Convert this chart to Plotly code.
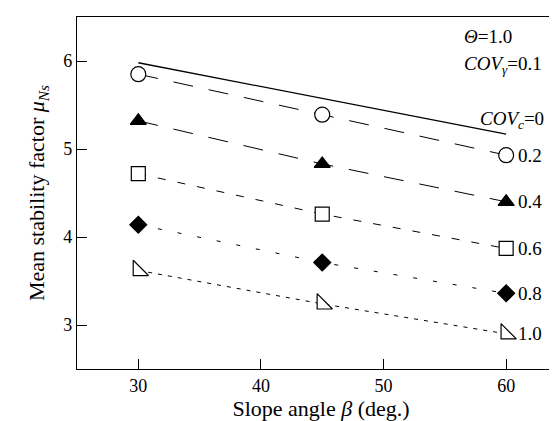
import plotly.graph_objects as go

angles = [30, 45, 60]
cov0 = [5.98, 5.575, 5.17]
cov02 = [5.85, 5.39, 4.93]
cov04 = [5.32, 4.83, 4.40]
cov06 = [4.72, 4.26, 3.87]
cov08 = [4.14, 3.71, 3.36]
cov10 = [3.62, 3.24, 2.90]
labels = ["0.2", "0.4", "0.6", "0.8", "1.0"]

FONT = "Liberation Serif"

fig = go.Figure()
fig.add_trace(go.Scatter(x=angles, y=cov0, mode="lines",
                         line=dict(color="black", width=1.3), showlegend=False))

specs = [
    (cov02, "circle", "white", "20px,16px", 15),
    (cov04, "triangle-up", "black", "20px,16px", 14),
    (cov06, "square", "white", "8px,12px", 14),
    (cov08, "diamond", "black", "4px,16px", 13),
    (cov10, "triangle-sw", "white", "4px,6px", 17),
]
for vals, sym, fill, dash, size in specs:
    fig.add_trace(go.Scatter(
        x=angles, y=vals, mode="lines+markers",
        line=dict(color="black", width=1, dash=dash),
        marker=dict(symbol=sym, size=size, color=fill,
                    line=dict(color="black", width=1.2)),
        showlegend=False))

annotations = []
for vals, lab in zip([cov02, cov04, cov06, cov08, cov10], labels):
    annotations.append(dict(x=60, y=vals[-1], xref="x", yref="y", text=lab,
                            showarrow=False, xanchor="left", yanchor="middle",
                            xshift=10, font=dict(family=FONT, size=19, color="black")))
annotations += [
    dict(x=56.4, y=6.28, xref="x", yref="y", text="<i>Θ</i>=1.0", showarrow=False,
         xanchor="left", yanchor="middle", font=dict(family=FONT, size=19, color="black")),
    dict(x=56.4, y=5.95, xref="x", yref="y", text="<i>COV</i><sub><i>γ</i></sub>=0.1",
         showarrow=False, xanchor="left", yanchor="middle",
         font=dict(family=FONT, size=19, color="black")),
    dict(x=57.7, y=5.33, xref="x", yref="y", text="<i>COV</i><sub><i>c</i></sub>=0",
         showarrow=False, xanchor="left", yanchor="middle",
         font=dict(family=FONT, size=19, color="black")),
]

fig.update_layout(
    width=557, height=421,
    margin=dict(l=69, r=0, t=9, b=60),
    paper_bgcolor="white", plot_bgcolor="white",
    font=dict(family=FONT, size=18, color="black"),
    annotations=annotations,
    xaxis=dict(range=[25, 64.8], tickvals=[30, 40, 50, 60], ticks="inside", ticklen=10,
               tickcolor="black", showline=True, linecolor="black", linewidth=1.3,
               mirror=True, showgrid=False, zeroline=False,
               tickfont=dict(family=FONT, size=18),
               title=dict(text="Slope angle <i>β</i> (deg.)", font=dict(family=FONT, size=22),
                          standoff=4)),
    yaxis=dict(range=[2.5, 6.5], tickvals=[3, 4, 5, 6], ticks="inside", ticklen=10,
               tickcolor="black", showline=True, linecolor="black", linewidth=1.3,
               showgrid=False, zeroline=False,
               tickfont=dict(family=FONT, size=18),
               title=dict(text="Mean stability factor <i>μ</i><sub><i>Ns</i></sub>",
                          font=dict(family=FONT, size=22), standoff=12)),
)

fig.write_html("out.html")
